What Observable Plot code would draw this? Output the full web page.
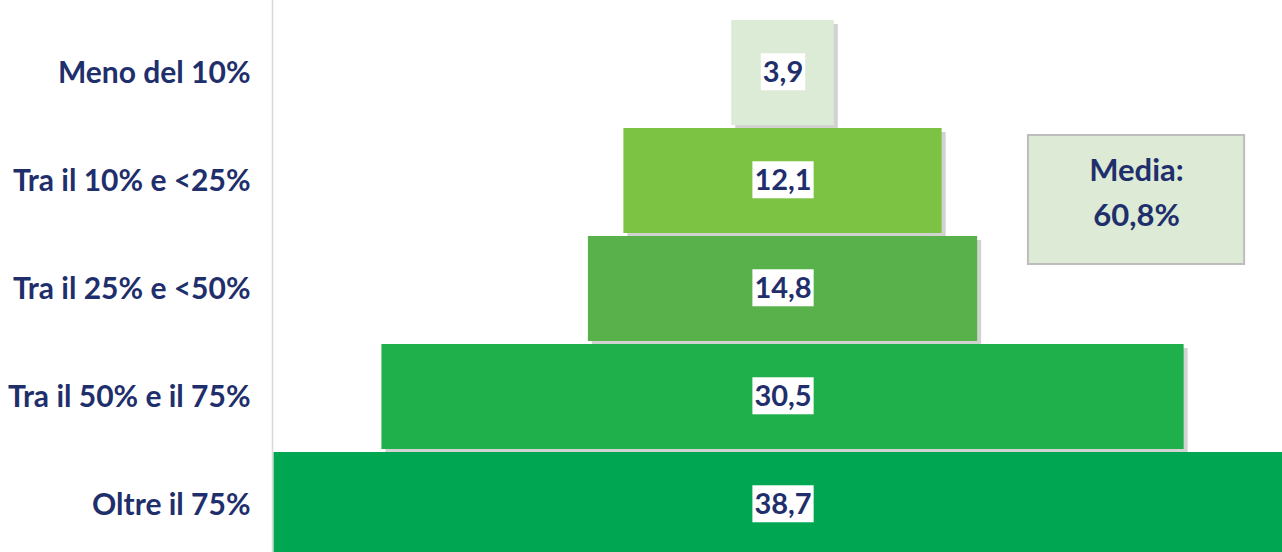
<!DOCTYPE html>
<html>
<head>
<meta charset="utf-8">
<script src="https://cdn.jsdelivr.net/npm/d3@7"></script>
<script src="https://cdn.jsdelivr.net/npm/@observablehq/plot@0.6"></script>
<style>
  html, body { margin: 0; padding: 0; background: #fff; overflow: hidden; }
  #chart { width: 1282px; height: 552px; overflow: hidden; }
</style>
</head>
<body>
<div id="chart"></div>
<script>
const categories = ["Meno del 10%", "Tra il 10% e <25%", "Tra il 25% e <50%", "Tra il 50% e il 75%", "Oltre il 75%"];
const values = [3.9, 12.1, 14.8, 30.5, 38.7];
const barColors = ["#dcebd5", "#7cc243", "#59b14b", "#1fb04b", "#00a651"];
const valueLabels = ["3,9", "12,1", "14,8", "30,5", "38,7"];
const mediaLines = ["Media:", "60,8%"];

const rows = categories.map((c, i) => ({cat: c, v: values[i], color: barColors[i], label: valueLabels[i]}));
const navy = "#1f2f6c";

const chart = Plot.plot({
  width: 1282,
  height: 558,
  marginLeft: 272,
  marginRight: 0,
  marginTop: 0,
  marginBottom: 0,
  style: {fontFamily: "Lato, 'Open Sans', sans-serif", background: "#fff"},
  x: {domain: [-19.41, 18.99], axis: null},
  y: {domain: categories, range: [18, 558], paddingInner: 0.032, paddingOuter: 0.016, axis: null},
  marks: [
    Plot.frame({anchor: "left", stroke: "#d9d9d9", strokeWidth: 1.5}),
    // shadow
    Plot.barX(rows, {y: "cat", x1: d => -d.v / 2, x2: d => d.v / 2, fill: "#7f7f7f", fillOpacity: 0.35, dx: 4, dy: 4, clip: true}),
    Plot.barX(rows, {y: "cat", x1: d => -d.v / 2, x2: d => d.v / 2, fill: "color", clip: true}),
    Plot.text(rows, {y: "cat", x: 0, text: "label", fill: navy, fontSize: 29, fontWeight: 700}),
    Plot.text(categories, {y: d => d, frameAnchor: "left", textAnchor: "end", dx: -22, fill: navy, fontSize: 30, fontWeight: 700}),
    // Media annotation box
    Plot.barX([mediaLines], {y: () => categories[1], x1: 9.33, x2: 17.55, insetTop: 7, insetBottom: -31, fill: "#dcead6", stroke: "#bdbdbd", strokeWidth: 2}),
    Plot.text([mediaLines.join("\n")], {y: () => categories[1], x: 13.44, text: d => d, dy: 8, lineHeight: 1.45, fill: navy, fontSize: 31, fontWeight: 700})
  ]
});

document.getElementById("chart").appendChild(chart);

// white background boxes behind the value labels
const labelSet = new Set(valueLabels);
Array.from(chart.querySelectorAll("text"))
  .filter(t => labelSet.has(t.textContent.trim()))
  .forEach(t => {
    const b = t.getBBox();
    const r = document.createElementNS("http://www.w3.org/2000/svg", "rect");
    r.setAttribute("x", b.x - 2);
    r.setAttribute("y", b.y);
    r.setAttribute("width", b.width + 4);
    r.setAttribute("height", b.height + 2);
    r.setAttribute("fill", "#fff");
    const tr = t.getAttribute("transform");
    if (tr) r.setAttribute("transform", tr);
    t.parentNode.insertBefore(r, t);
  });
</script>
</body>
</html>
